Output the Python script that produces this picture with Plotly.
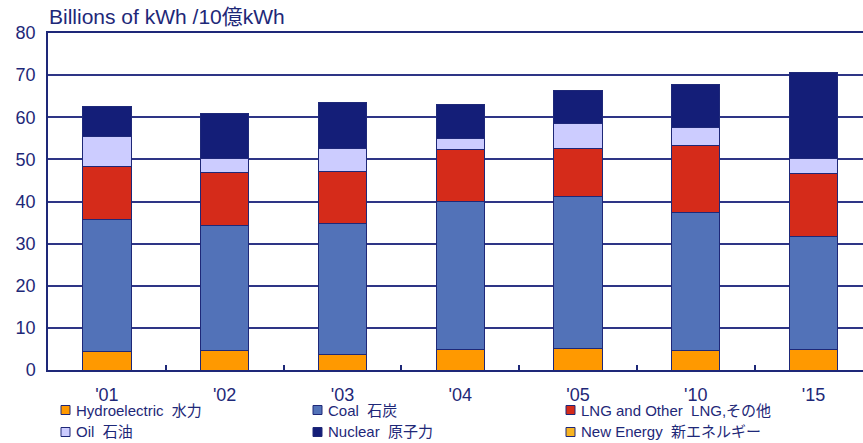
import plotly.graph_objects as go

# values, billions of kWh
years = ["'01", "'02", "'03", "'04", "'05", "'10", "'15"]
hydro = [4.3, 4.6, 3.6, 4.9, 5.2, 4.6, 4.9]
coal = [31.4, 29.8, 31.2, 35.2, 35.9, 32.7, 26.8]
lng = [12.5, 12.4, 12.4, 12.2, 11.5, 15.9, 15.0]
oil = [7.2, 3.5, 5.3, 2.7, 5.9, 4.4, 3.6]
nuclear = [7.2, 10.6, 10.9, 8.0, 7.9, 10.2, 20.4]
new_energy = [0, 0, 0, 0, 0, 0, 0]

legend_names = ["Hydroelectric  水力", "Coal  石炭", "LNG and Other  LNG,その他",
                "Oil  石油", "Nuclear  原子力", "New Energy  新エネルギー"]

NAVY = "#1E2878"
FONT = "Liberation Sans, Arial, Noto Sans CJK JP"

W, H = 863, 443
L, R, T, B = 48, 0, 33, 73
PW, PH = W - L - R, H - T - B

series = [
    ("Hydroelectric", hydro, "#FF9900"),
    ("Coal", coal, "#5272B8"),
    ("LNG and Other", lng, "#D52B1A"),
    ("Oil", oil, "#CCCCFF"),
    ("Nuclear", nuclear, "#141E78"),
    ("New Energy", new_energy, "#F7B422"),
]

fig = go.Figure()
for name, vals, col in series:
    fig.add_trace(go.Bar(
        name=name, x=years, y=vals,
        marker=dict(color=col, line=dict(color=NAVY, width=1 if any(vals) else 0)),
        showlegend=False))

# hand made legend, 3 columns x 2 rows
def px2paper(x, y):
    return (x - L) / PW, (T + PH - y) / PH

cols_x = [61, 313, 566]
rows_y = [410, 432]
legend_colors = ["#FF9900", "#5272B8", "#D52B1A", "#CCCCFF", "#141E78", "#F7B422"]
for i, (txt, col) in enumerate(zip(legend_names, legend_colors)):
    cx = cols_x[i % 3]
    cy = rows_y[i // 3]
    x0, y0 = px2paper(cx, cy + 4.5)
    x1, y1 = px2paper(cx + 9, cy - 4.5)
    fig.add_shape(type="rect", xref="paper", yref="paper",
                  x0=x0, y0=y0, x1=x1, y1=y1,
                  fillcolor=col, line=dict(color=NAVY, width=1))
    tx, ty = px2paper(cx + 13, cy)
    fig.add_annotation(xref="paper", yref="paper", x=tx, y=ty,
                       xanchor="left", yanchor="middle", showarrow=False,
                       text=txt, font=dict(size=15, color=NAVY, family=FONT))

tx, ty = px2paper(47, 17)
fig.add_annotation(xref="paper", yref="paper", x=tx, y=ty,
                   xanchor="left", yanchor="middle", showarrow=False,
                   text="Billions of kWh /10億kWh",
                   font=dict(size=21, color=NAVY, family=FONT))

fig.update_layout(
    width=W, height=H,
    margin=dict(l=L, r=R, t=T, b=B),
    paper_bgcolor="white", plot_bgcolor="white",
    barmode="stack", bargap=0.59,
    font=dict(family=FONT, color=NAVY),
    xaxis=dict(type="category", range=[-0.5, 6.42],
               showline=True, linecolor=NAVY, linewidth=1.5, mirror=True,
               ticks="inside", tickson="boundaries", ticklen=5,
               tickcolor=NAVY, tickwidth=1.5,
               tickfont=dict(size=18, color=NAVY), ticklabelstandoff=8),
    yaxis=dict(range=[0, 80], dtick=10,
               showline=True, linecolor=NAVY, linewidth=1.5,
               showgrid=True, gridcolor="#2E3586", gridwidth=1.5,
               zeroline=False, ticks="",
               tickfont=dict(size=18, color=NAVY), ticklabelstandoff=7),
)

# page has a default 8px body margin; drop it so the chart fills the window
fig.write_html("out.html", config={"displayModeBar": False},
               post_script="document.body.style.margin='0';")
